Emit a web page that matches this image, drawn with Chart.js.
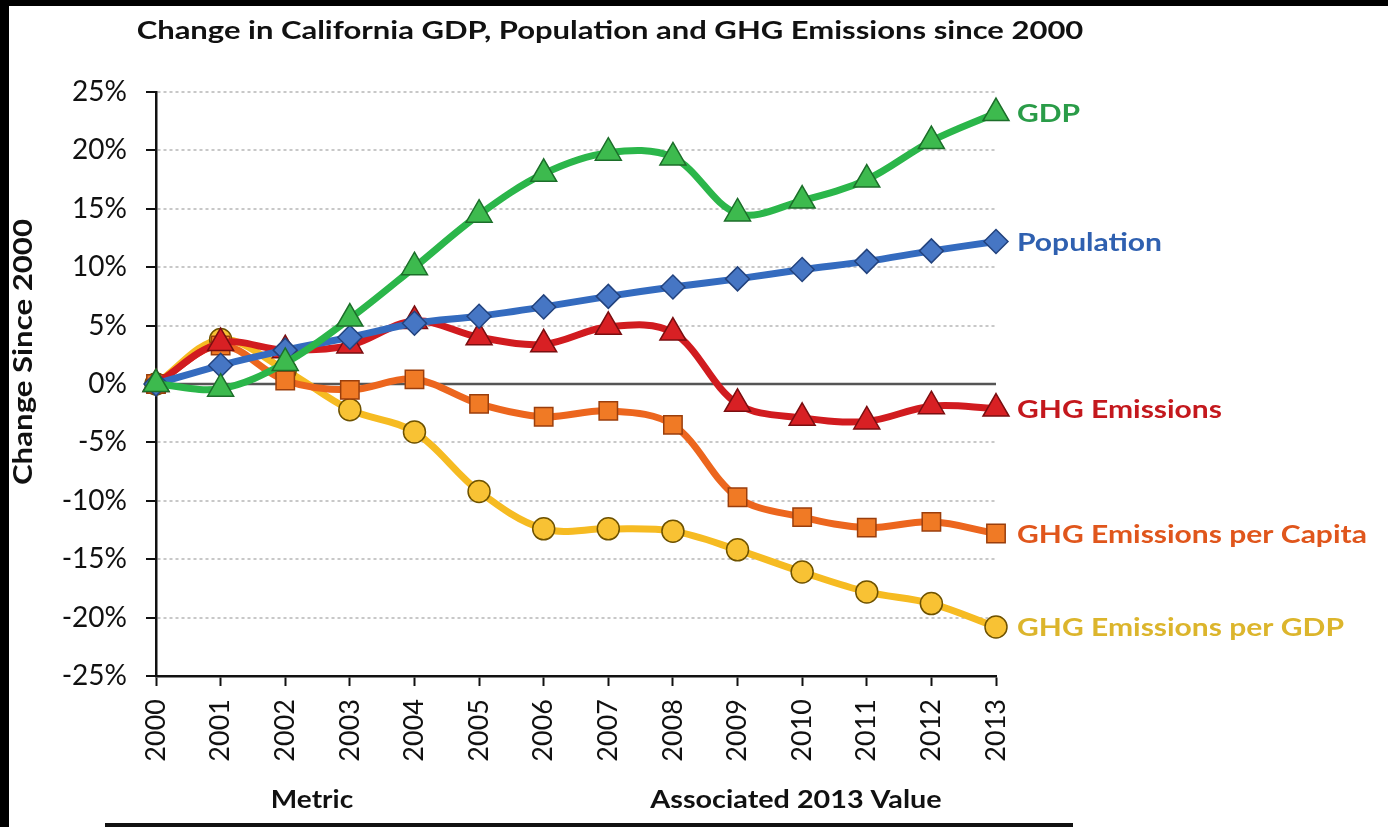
<!DOCTYPE html>
<html>
<head>
<meta charset="utf-8">
<script src="https://cdn.jsdelivr.net/npm/chart.js@4/dist/chart.umd.min.js"></script>
<style>
  html, body { margin: 0; padding: 0; background: #fff; }
  #wrap { position: relative; width: 1388px; height: 827px; overflow: hidden; }
  #leftBar { position: absolute; left: 0; top: 0; width: 9px; height: 827px; background: #000; }
  #topBar { position: absolute; left: 0; top: 0; width: 1388px; height: 6px; background: #000; }
</style>
</head>
<body>
<div id="wrap">
  <canvas id="myChart" width="1388" height="827"></canvas>
  <div id="leftBar"></div>
  <div id="topBar"></div>
</div>
<script>
const years = ['2000', '2001', '2002', '2003', '2004', '2005', '2006', '2007', '2008', '2009', '2010', '2011', '2012', '2013'];
const gdp = [0, -0.4, 1.8, 5.6, 10.0, 14.5, 18.0, 19.8, 19.4, 14.6, 15.7, 17.5, 20.8, 23.2];
const population = [0, 1.6, 2.9, 4.0, 5.2, 5.8, 6.6, 7.5, 8.3, 9.0, 9.8, 10.5, 11.4, 12.2];
const ghgEmissions = [0, 3.5, 2.9, 3.3, 5.4, 4.0, 3.4, 4.9, 4.4, -1.7, -2.9, -3.2, -1.9, -2.1];
const ghgPerCapita = [0, 3.3, 0.3, -0.5, 0.4, -1.7, -2.8, -2.3, -3.5, -9.7, -11.4, -12.3, -11.8, -12.8];
const ghgPerGdp = [0, 3.8, 1.2, -2.2, -4.1, -9.2, -12.4, -12.4, -12.6, -14.2, -16.1, -17.8, -18.8, -20.8];
const yTicks = [-25, -20, -15, -10, -5, 0, 5, 10, 15, 20, 25];

const FONT = 'Lato, "Open Sans", sans-serif';

// text is a bit wide in the original, so stretch it horizontally
const stretchText = (ctx, text, x, y, align, sx) => {
    ctx.save();
    ctx.translate(x, y);
    ctx.scale(sx, 1);
    ctx.textAlign = align;
    ctx.fillText(text, 0, 0);
    ctx.restore();
};

const seriesLabels = {
    id: 'seriesLabels',
    beforeDatasetsDraw(chart) {
        const ctx = chart.ctx;
        const area = chart.chartArea;
        const y0 = chart.scales.y.getPixelForValue(0);
        ctx.save();
        ctx.strokeStyle = '#555';
        ctx.lineWidth = 2.5;
        ctx.beginPath();
        ctx.moveTo(area.left, y0);
        ctx.lineTo(area.right, y0);
        ctx.stroke();
        ctx.restore();
    },
    afterDraw(chart) {
        const ctx = chart.ctx;
        ctx.save();
        ctx.textBaseline = 'middle';

        // labels at end of each line
        ctx.font = 'bold 25px ' + FONT;
        chart.data.datasets.forEach((ds, i) => {
            const meta = chart.getDatasetMeta(i);
            const last = meta.data[meta.data.length - 1];
            ctx.fillStyle = ds.labelColor;
            stretchText(ctx, ds.label, last.x + 21, last.y + 1, 'left', 1.2);
        });

        ctx.fillStyle = '#111';
        ctx.font = 'bold 25px ' + FONT;
        stretchText(ctx, 'Change in California GDP, Population and GHG Emissions since 2000', 610, 31, 'center', 1.24);

        // y axis title
        ctx.save();
        ctx.translate(24, 352);
        ctx.rotate(-Math.PI / 2);
        ctx.font = 'bold 26px ' + FONT;
        stretchText(ctx, 'Change Since 2000', 0, 0, 'center', 1.2);
        ctx.restore();

        // table header below
        ctx.font = 'bold 25px ' + FONT;
        stretchText(ctx, 'Metric', 312, 800, 'center', 1.12);
        stretchText(ctx, 'Associated 2013 Value', 796, 800, 'center', 1.15);
        ctx.fillRect(105, 823, 968, 4);
        ctx.restore();
    }
};

const makeSet = (label, data, line, fill, border, labelColor, style, radius, order) => ({
    label: label,
    data: data,
    borderColor: line,
    backgroundColor: fill,
    pointBackgroundColor: fill,
    pointBorderColor: border,
    pointBorderWidth: 1.5,
    pointStyle: style,
    pointRadius: radius,
    borderWidth: 7,
    tension: 0.35,
    labelColor: labelColor,
    order: order
});

const data = {
    labels: years,
    datasets: [
        makeSet('GDP', gdp, '#2bb64a', '#3dba4e', '#1c6e2a', '#2a9c48', 'triangle', 15, 0),
        makeSet('Population', population, '#346bbf', '#4676c4', '#23437e', '#2f60b0', 'rectRot', 12, 1),
        makeSet('GHG Emissions', ghgEmissions, '#d11b1f', '#d82024', '#7a0e10', '#c4181d', 'triangle', 15, 2),
        makeSet('GHG Emissions per Capita', ghgPerCapita, '#ec661e', '#f07a25', '#9a3e0c', '#e0561c', 'rect', 13, 3),
        makeSet('GHG Emissions per GDP', ghgPerGdp, '#f6bb22', '#f8c234', '#6e5200', '#dcb52c', 'circle', 11, 4)
    ]
};

const config = {
    type: 'line',
    data: data,
    options: {
        responsive: false,
        animation: false,
        layout: { padding: { left: 0, right: 392, top: 92, bottom: 0 } },
        plugins: {
            legend: { display: false },
            tooltip: { enabled: false }
        },
        scales: {
            x: {
                offset: false,
                grid: { drawOnChartArea: false, drawTicks: true, tickLength: 10, tickColor: '#111', tickWidth: 2 },
                border: { color: '#111', width: 2.5 },
                ticks: {
                    color: '#111',
                    font: { family: FONT, size: 27 },
                    minRotation: 90,
                    maxRotation: 90,
                    padding: 13,
                    autoSkip: false
                },
                afterFit: (scale) => { scale.height = 151; }
            },
            y: {
                min: -25,
                max: 25,
                afterBuildTicks: (scale) => { scale.ticks = yTicks.map(v => ({ value: v })); },
                grid: {
                    color: (c) => (c.tick.value === 0 || c.tick.value === -25) ? 'rgba(0,0,0,0)' : '#c8c8c8',
                    lineWidth: 2,
                    tickLength: 10,
                    tickColor: '#111',
                    tickWidth: 2
                },
                border: { color: '#111', width: 2.5, dash: [3, 3] },
                ticks: {
                    color: '#111',
                    font: { family: FONT, size: 28 },
                    padding: 19,
                    callback: (v) => v + '%'
                },
                afterFit: (scale) => { scale.width = 156; }
            }
        }
    },
    plugins: [seriesLabels]
};

const myChart = new Chart(document.getElementById('myChart'), config);
</script>
</body>
</html>
